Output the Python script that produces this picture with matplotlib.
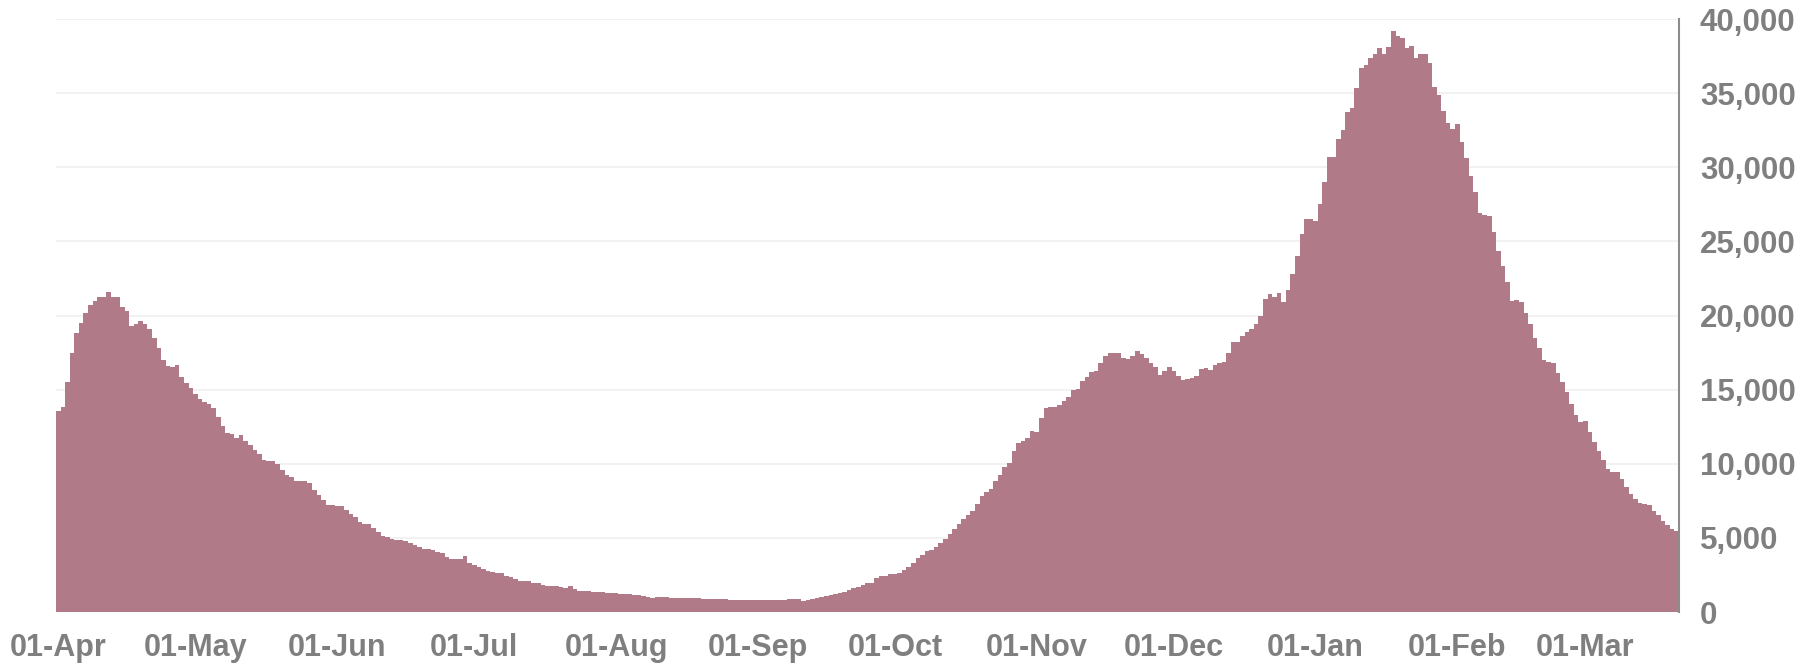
import pandas as pd
import matplotlib
matplotlib.use('Agg')
import matplotlib.pyplot as plt
import matplotlib.dates as mdates
from matplotlib.ticker import FuncFormatter

plt.rcParams['font.family'] = ['Liberation Sans', 'DejaVu Sans']
plt.rcParams['font.weight'] = 'bold'

# Daily values, one per day starting 01-Apr
start_date = '2020-04-01'

apr = [13580, 13850, 15530, 17490, 18840, 19470, 20190, 20710, 20980, 21230,
       21230, 21600, 21270, 21270, 20550, 20320, 19310, 19450, 19600, 19400,
       19070, 18460, 17790, 17000, 16590, 16530, 16660, 15830, 15470, 15130]
may = [14700, 14370, 14190, 14030, 13740, 13170, 12570, 12050, 12000, 11720,
       11940, 11560, 11260, 10930, 10660, 10250, 10180, 10180, 9980, 9580,
       9240, 9130, 8840, 8840, 8840, 8720, 8230, 7890, 7550, 7220, 7220]
jun = [7180, 7150, 6880, 6590, 6390, 6090, 5940, 5940, 5640, 5420,
       5150, 5040, 4920, 4860, 4860, 4810, 4680, 4520, 4360, 4230,
       4230, 4180, 4070, 3960, 3730, 3580, 3580, 3560, 3750, 3330]
jul = [3170, 3060, 2880, 2770, 2720, 2650, 2610, 2450, 2340, 2200,
       2090, 2090, 2070, 1980, 1930, 1820, 1780, 1750, 1730, 1710,
       1620, 1730, 1550, 1440, 1390, 1390, 1370, 1350, 1330, 1300, 1260]
aug = [1260, 1240, 1210, 1190, 1170, 1120, 1080, 1010, 970, 1030,
       1010, 980, 970, 960, 950, 940, 935, 920, 915, 905,
       900, 910, 870, 855, 850, 840, 830, 830, 830, 825, 830]
sep = [820, 790, 790, 790, 790, 800, 830, 850, 880, 880,
       760, 800, 850, 950, 1020, 1080, 1130, 1190, 1260, 1350,
       1480, 1620, 1710, 1800, 1950, 1980, 2270, 2430, 2430, 2560]
oct_ = [2560, 2650, 2830, 3010, 3280, 3620, 3850, 4110, 4180, 4360,
        4680, 4950, 5260, 5580, 5910, 6250, 6540, 6810, 7290, 7820,
        8120, 8300, 8860, 9240, 9760, 10070, 10880, 11380, 11530, 11710, 12230]
nov = [12160, 13060, 13740, 13800, 13800, 13960, 14250, 14520, 14970, 15050,
       15600, 15870, 16210, 16280, 16820, 17270, 17450, 17490, 17450, 17160,
       17040, 17270, 17630, 17380, 17110, 16820, 16500, 15990, 16260, 16500]
dec = [16280, 15920, 15650, 15690, 15760, 15920, 16390, 16440, 16320, 16660,
       16820, 16890, 17490, 18190, 18230, 18620, 18910, 19070, 19430, 19970,
       21090, 21450, 21220, 21540, 20880, 21720, 22770, 24030, 25520, 26490, 26490]
jan = [26360, 27540, 29010, 30720, 30670, 31900, 32520, 33730, 33970, 35360,
       36720, 36930, 37400, 37640, 38060, 37660, 38120, 39160, 38820, 38690,
       38040, 38190, 37380, 37670, 37670, 37060, 35440, 34890, 33790, 33000, 32550]
feb = [32920, 31690, 30640, 29380, 28360, 26910, 26780, 26710, 25650, 24370,
       23360, 22280, 21000, 21050, 20930, 20190, 19430, 18460, 17790, 17000,
       16860, 16820, 16140, 15540, 14860, 14030, 13270, 12790]
mar = [12910, 12120, 11490, 10880, 10250, 9620, 9470, 9420, 8970, 8410,
       7960, 7620, 7380, 7290, 7220, 6840, 6540, 6160, 5870, 5580, 5490]

values = apr + may + jun + jul + aug + sep + oct_ + nov + dec + jan + feb + mar
dates = pd.date_range(start_date, periods=len(values), freq='D')

y_ticks = [0, 5000, 10000, 15000, 20000, 25000, 30000, 35000, 40000]

bar_color = '#b07a89'
text_color = '#7f7f7f'

fig = plt.figure(figsize=(18.15, 6.65), dpi=100)
ax = fig.add_axes([56 / 1815, 53 / 665, (1679 - 56) / 1815, (612 - 19) / 665])

ax.bar(dates, values, width=1.0, color=bar_color, linewidth=0, zorder=2)

ax.set_xlim(dates[0] - pd.Timedelta(hours=12), dates[-1] + pd.Timedelta(hours=12))
ax.set_ylim(0, 40000)
ax.set_yticks(y_ticks)
ax.yaxis.set_major_formatter(FuncFormatter(lambda v, p: f'{v:,.0f}'))
ax.yaxis.tick_right()
ax.yaxis.grid(True, color='#f0f0f0', linewidth=1.2, zorder=0)
ax.set_axisbelow(True)

ax.xaxis.set_major_locator(mdates.MonthLocator(bymonthday=1))
ax.xaxis.set_major_formatter(mdates.DateFormatter('%d-%b'))

ax.tick_params(axis='y', length=0, pad=15, labelsize=22.5, labelcolor=text_color)
ax.tick_params(axis='x', length=0, pad=15, labelsize=22, labelcolor=text_color)

for side in ['top', 'left', 'bottom']:
    ax.spines[side].set_visible(False)
ax.spines['right'].set_color('#8c8c8c')
ax.spines['right'].set_linewidth(1.5)

fig.savefig('out.png', dpi=100)
